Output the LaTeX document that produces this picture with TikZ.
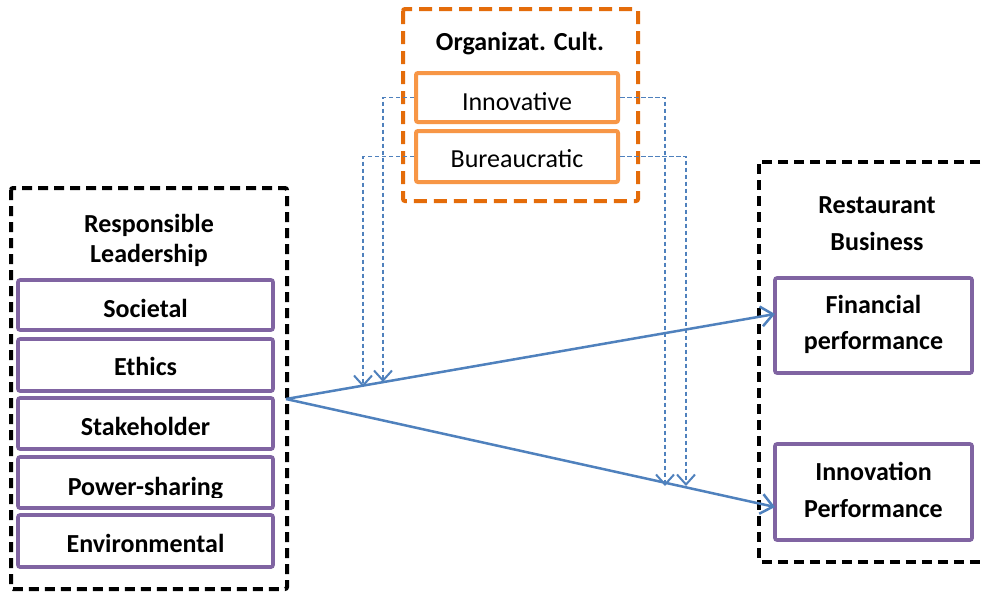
\documentclass[tikz,border=0pt]{standalone}
\usepackage{fontspec}
\setmainfont{Carlito}
\usetikzlibrary{arrows.meta}
\definecolor{purp}{HTML}{8064A2}
\definecolor{orgdark}{HTML}{E46C0A}
\definecolor{orglight}{HTML}{F79646}
\definecolor{bl}{HTML}{4F81BD}
\tikzset{
  grpbox/.style={draw=black, line width=4pt, dash pattern=on 10pt off 6pt, rounded corners=2pt},
  orgbox/.style={draw=orgdark, line width=4pt, dash pattern=on 13pt off 7pt, rounded corners=2pt},
  pbox/.style={draw=purp, line width=3.6pt, rounded corners=2pt, inner sep=0pt},
  obox/.style={draw=orglight, line width=4pt, rounded corners=2pt, inner sep=0pt},
  lbl/.style={anchor=base, inner sep=0pt, font=\fontsize{26}{30}\selectfont\bfseries},
  lblr/.style={anchor=base, inner sep=0pt, font=\fontsize{26}{30}\selectfont},
  mainarr/.style={draw=bl, line width=2.5pt, -{Straight Barb[length=12pt,width=20pt,line width=2.5pt]}},
  modarr/.style={draw=bl, line width=1.8pt, dash pattern=on 4.5pt off 2.5pt, -{Straight Barb[length=10pt,width=18pt,line width=2pt]}}
}
\begin{document}
\begin{tikzpicture}[x=1pt,y=-1pt]
\clip (0,0) rectangle (982,592);
\fill[white] (0,0) rectangle (982,592);

% group boxes
\draw[grpbox] (11,188) rectangle (287,589);
\draw[grpbox] (759,162) rectangle (1000,562);
\draw[orgbox] (403,9) rectangle (638,201);

% titles
\node[lbl] (tOrg) at (520,50) {Organizat. Cult.};
\node[lbl] (tRL1) at (149,232) {Responsible};
\node[lbl] (tRL2) at (149,262) {Leadership};
\node[lbl] (tRB1) at (877,213) {Restaurant};
\node[lbl] (tRB2) at (877,250) {Business};

% organizational culture boxes
\node[obox, minimum width=202pt, minimum height=49pt] (inn) at (517,97.5) {};
\node[obox, minimum width=202pt, minimum height=51pt] (bur) at (517,156.5) {};
\node[lblr] (tInn) at (517,110) {Innovative};
\node[lblr] (tBur) at (517,167) {Bureaucratic};

% leadership boxes
\node[pbox, minimum width=255pt, minimum height=50pt] (soc) at (145.5,305) {};
\node[pbox, minimum width=255pt, minimum height=52pt] (eth) at (145.5,365) {};
\node[pbox, minimum width=255pt, minimum height=51pt] (sta) at (145.5,423.5) {};
\node[pbox, minimum width=255pt, minimum height=51pt] (pow) at (145.5,482.5) {};
\node[pbox, minimum width=255pt, minimum height=52pt] (env) at (145.5,541) {};
\node[lbl] (tSoc) at (145.5,317) {Societal};
\node[lbl] (tEth) at (145.5,375) {Ethics};
\node[lbl] (tSta) at (145.5,435) {Stakeholder};
\begin{scope}
\clip (18,458) rectangle (273,497);
\node[lbl] (tPow) at (145.5,495) {Power-sharing};
\end{scope}
\node[lbl] (tEnv) at (145.5,552) {Environmental};

% outcome boxes
\node[pbox, minimum width=197pt, minimum height=95pt] (fin) at (873.5,325.5) {};
\node[pbox, minimum width=197pt, minimum height=96pt] (ino) at (873.5,492) {};
\node[lbl] (tFin1) at (873.5,313) {Financial};
\node[lbl] (tFin2) at (873.5,349) {performance};
\node[lbl] (tIno1) at (873.5,480) {Innovation};
\node[lbl] (tIno2) at (873.5,517) {Performance};

% main paths
\coordinate (src) at (286,399);
\coordinate (finIn) at (775,314);
\coordinate (inoIn) at (775,507);
\draw[mainarr] (src) -- (finIn);
\draw[mainarr] (src) -- (inoIn);

% moderating paths
\coordinate (m1) at (383,382);
\coordinate (m2) at (363,387);
\coordinate (m3) at (665,486);
\coordinate (m4) at (686,486);
\draw[modarr] (inn.west) -| (m1);
\draw[modarr] (bur.west) -| (m2);
\draw[modarr] (inn.east) -| (m3);
\draw[modarr] (bur.east) -| (m4);
\end{tikzpicture}
\end{document}
